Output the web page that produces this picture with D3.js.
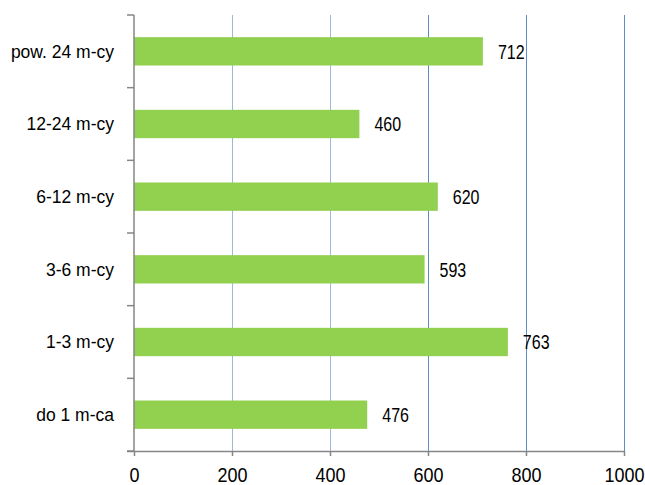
<!DOCTYPE html>
<html><head><meta charset="utf-8">
<script src="https://cdn.jsdelivr.net/npm/d3@7"></script>
<style>body{margin:0;background:#fff}svg{display:block}text{font-family:"Liberation Sans",Arial,sans-serif;fill:#000}</style>
</head><body>
<svg id="c" width="645" height="485"></svg>
<script>
const categories = ["pow. 24 m-cy","12-24 m-cy","6-12 m-cy","3-6 m-cy","1-3 m-cy","do 1 m-ca"];
const values = [712,460,620,593,763,476];
const xTicks = [0,200,400,600,800,1000];

const svg = d3.select("#c");
const m = {left:134, right:21, top:15, bottom:34};
const W = 645, H = 485;
const FS = 17.5;
const x = d3.scaleLinear().domain([0,1000]).range([m.left, W-m.right]);
const y = d3.scaleBand().domain(categories).range([m.top, H-m.bottom]).paddingInner(0.61).paddingOuter(0.305);

// gridlines
svg.append("g").selectAll("line").data(xTicks.slice(1)).join("line")
  .attr("x1",d=>x(d)).attr("x2",d=>x(d)).attr("y1",m.top).attr("y2",H-m.bottom)
  .attr("stroke",(d)=>d<=400?"#9dbadc":"#5f8cc4").attr("stroke-width",1).attr("shape-rendering","crispEdges");

// bars
svg.append("g").selectAll("rect").data(values).join("rect")
  .attr("x",x(0)).attr("y",(d,i)=>y(categories[i]))
  .attr("width",d=>x(d)-x(0)).attr("height",y.bandwidth())
  .attr("fill","#92d050");

// value labels
svg.append("g").selectAll("text").data(values).join("text")
  .attr("transform",(d,i)=>`translate(${x(d)+15},${y(categories[i])+y.bandwidth()/2}) scale(0.8,1)`)
  .attr("dy","0.36em").attr("font-size",20).text(d=>d);

// x axis
const xa = svg.append("g").attr("transform",`translate(0,${H-m.bottom})`)
  .call(d3.axisBottom(x).tickValues(xTicks).tickFormat(d3.format("d")).tickSize(5).tickPadding(12).tickSizeOuter(0));
xa.select(".domain").attr("stroke","#868686").attr("stroke-width",1.5).attr("d",`M${x(0)-7},0.5H${x(1000)}`);
xa.selectAll(".tick line").attr("stroke","#868686").attr("stroke-width",1.5);
xa.selectAll(".tick text").attr("font-size",20).attr("transform","scale(0.9,1)")
  .attr("font-family","Liberation Sans, Arial, sans-serif").attr("fill","#000");

// y axis
const step = y.step();
const bounds = d3.range(categories.length+1).map(i=>m.top + i*step);
const ya = svg.append("g");
ya.append("line").attr("x1",x(0)).attr("x2",x(0)).attr("y1",m.top).attr("y2",H-m.bottom)
  .attr("stroke","#868686").attr("stroke-width",1.5);
ya.selectAll(".yt").data(bounds).join("line").attr("class","yt")
  .attr("x1",x(0)-7).attr("x2",x(0)).attr("y1",d=>d).attr("y2",d=>d)
  .attr("stroke","#868686").attr("stroke-width",1.5);
ya.selectAll("text").data(categories).join("text")
  .attr("x",x(0)-20).attr("y",d=>y(d)+y.bandwidth()/2).attr("dy","0.36em")
  .attr("text-anchor","end").attr("font-size",FS).text(d=>d);
</script>
</body></html>
